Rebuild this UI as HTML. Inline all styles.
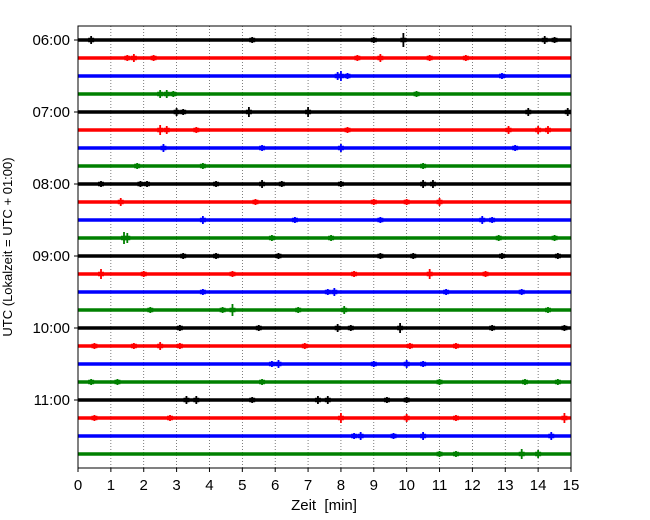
<!DOCTYPE html>
<html><head><meta charset="utf-8"><style>
body{margin:0;background:#fff}
svg{display:block;font-family:"Liberation Sans","DejaVu Sans",sans-serif}
</style></head><body>
<svg id="chart" width="650" height="520">
<rect x="0" y="0" width="650" height="520" fill="#fff"/>
<g id="grid"></g><g id="traces"></g><g id="axes"></g>
</svg>
<script>
const xTicks=[0,1,2,3,4,5,6,7,8,9,10,11,12,13,14,15];
const hourLabels=["06:00","07:00","08:00","09:00","10:00","11:00"];
const traceColors=["#000000","#ff0000","#0000ff","#008000"];
const traceCount=24;
// events per trace: [minute, half-amplitude]
const events=[
[[0.4,4],[5.3,3],[9.0,3],[9.9,7],[14.2,4],[14.5,3]],
[[1.5,3],[1.7,4],[2.3,3],[8.5,3],[9.2,4],[10.7,3],[11.8,3]],
[[7.9,4],[8.0,5],[8.2,3],[12.9,3]],
[[2.5,4],[2.7,4],[2.9,3],[10.3,3]],
[[3.0,4],[3.2,3],[5.2,5],[7.0,5],[13.7,4],[14.9,4]],
[[2.5,5],[2.7,4],[3.6,3],[8.2,3],[13.1,4],[14.0,4],[14.3,4]],
[[2.6,4],[5.6,3],[8.0,4],[13.3,3]],
[[1.8,3],[3.8,3],[10.5,3]],
[[0.7,3],[1.9,3],[2.1,3],[4.2,3],[5.6,4],[6.2,3],[8.0,3],[10.5,4],[10.8,4]],
[[1.3,4],[5.4,3],[9.0,3],[10.0,3],[11.0,4]],
[[3.8,4],[6.6,3],[9.2,3],[12.3,4],[12.6,3]],
[[1.4,6],[1.5,5],[5.9,3],[7.7,3],[12.8,3],[14.5,3]],
[[3.2,3],[4.2,3],[6.1,3],[9.2,3],[10.2,3],[12.9,3],[14.6,3]],
[[0.7,5],[2.0,3],[4.7,3],[8.4,3],[10.7,5],[12.4,3]],
[[3.8,3],[7.6,3],[7.8,4],[11.2,3],[13.5,3]],
[[2.2,3],[4.4,3],[4.7,6],[6.7,3],[8.1,4],[14.3,3]],
[[3.1,3],[5.5,3],[7.9,4],[8.3,3],[9.8,5],[12.6,3],[14.8,3]],
[[0.5,3],[1.7,3],[2.5,4],[3.1,3],[6.9,3],[10.1,3],[11.5,3]],
[[5.9,3],[6.1,4],[9.0,3],[10.0,4],[10.5,3]],
[[0.4,3],[1.2,3],[5.6,3],[11.0,3],[13.6,3],[14.6,3]],
[[3.3,4],[3.6,4],[5.3,3],[7.3,4],[7.6,4],[9.4,3],[10.0,3]],
[[0.5,3],[2.8,3],[8.0,5],[10.0,4],[11.5,3],[14.8,5]],
[[8.4,3],[8.6,4],[9.6,3],[10.5,4],[14.4,4]],
[[11.0,3],[11.5,3],[13.5,5],[14.0,4]]
];
const L=78,R=571,T=26,B=468,Y0=40,DY=18;
const xs=m=>L+m*(R-L)/15;
const ys=i=>Y0+i*DY;
const NS="http://www.w3.org/2000/svg";
function mk(tag,attrs,parent){const e=document.createElementNS(NS,tag);for(const k in attrs)e.setAttribute(k,attrs[k]);parent.appendChild(e);return e;}
const grid=document.getElementById('grid'),tr=document.getElementById('traces'),ax=document.getElementById('axes');
xTicks.forEach(t=>{if(t>0&&t<15){const l=mk('line',{x1:xs(t),x2:xs(t),y1:T,y2:B,stroke:'#444','stroke-width':0.7,'stroke-dasharray':'1,2'},grid);

}});
for(let i=0;i<traceCount;i++){
 const c=traceColors[i%4],y=ys(i);
 const g=mk('g',{},tr);
 
 
 mk('line',{x1:L,x2:R,y1:y,y2:y,stroke:c,'stroke-width':3.4},g);
 (events[i]||[]).forEach(([m,a])=>{
  const s=mk('line',{x1:xs(m),x2:xs(m),y1:y-a,y2:y+a,stroke:c,'stroke-width':1.8},g);
  
  
  const w=mk('line',{x1:xs(m)-3,x2:xs(m)+3,y1:y,y2:y,stroke:c,'stroke-width':4.5},g);
  
  
 });
}
const fr=mk('rect',{x:L,y:T,width:R-L,height:B-T,fill:'none',stroke:'#000','stroke-width':1},ax);


xTicks.forEach(t=>{
 mk('line',{x1:xs(t),x2:xs(t),y1:B,y2:B+4,stroke:'#000'},ax);
 const tx=mk('text',{x:xs(t),y:B+22,'text-anchor':'middle','font-size':15},ax);tx.textContent=t;
 
 
});
hourLabels.forEach((h,k)=>{
 const y=ys(k*4);
 mk('line',{x1:L-4,x2:L,y1:y,y2:y,stroke:'#000'},ax);
 const tx=mk('text',{x:L-8,y:y+5,'text-anchor':'end','font-size':15},ax);tx.textContent=h;
 
 
});
const xl=mk('text',{x:324,y:510,'text-anchor':'middle','font-size':15,style:'white-space:pre'},ax);xl.textContent='Zeit  [min]';


const yl=mk('text',{x:12,y:247,'text-anchor':'middle','font-size':13,transform:'rotate(-90 12 247)'},ax);yl.textContent='UTC (Lokalzeit = UTC + 01:00)';


</script>
</body></html>
